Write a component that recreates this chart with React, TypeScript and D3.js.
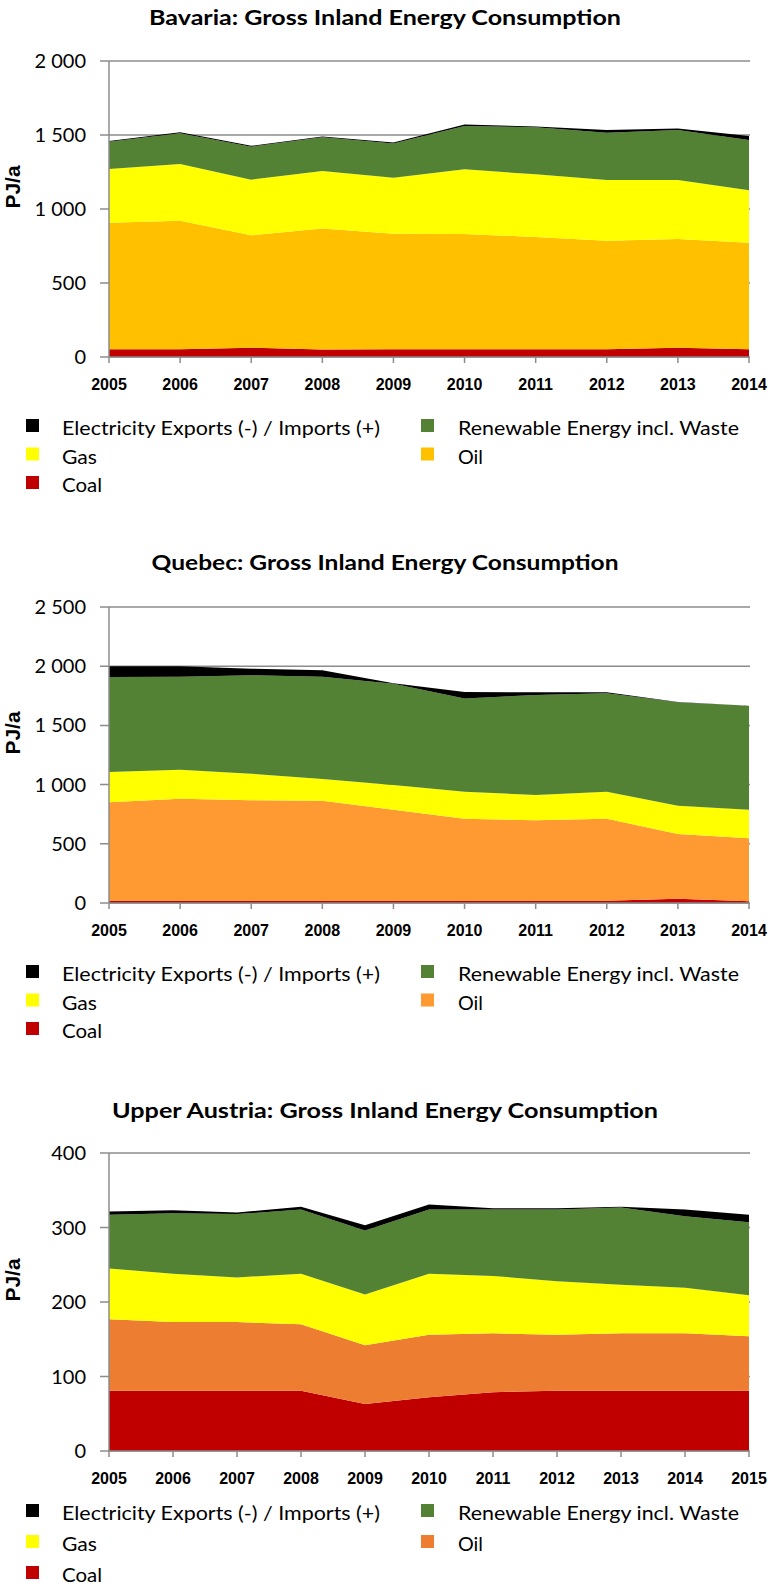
import React from "react";
import * as d3 from "d3";

// ---------- data ----------
const YEARS_BAVARIA = [2005, 2006, 2007, 2008, 2009, 2010, 2011, 2012, 2013, 2014];
const BAV_COAL = [52, 52, 63, 50, 52, 52, 52, 52, 63, 52];
const BAV_OIL = [855, 869, 759, 819, 781, 779, 759, 734, 734, 720];
const BAV_GAS = [363, 383, 376, 388, 378, 437, 423, 410, 399, 354];
const BAV_RENEW = [185, 207, 223, 227, 232, 293, 318, 320, 338, 340];
const BAV_ELEC = [5, 8, 6, 6, 6, 10, 5, 18, 10, 27];
const BAV_TICKS = [0, 500, 1000, 1500, 2000];

const YEARS_QUEBEC = [2005, 2006, 2007, 2008, 2009, 2010, 2011, 2012, 2013, 2014];
const QC_COAL = [18, 18, 18, 18, 18, 18, 18, 18, 35, 15];
const QC_OIL = [832, 863, 849, 846, 770, 694, 680, 694, 548, 531];
const QC_GAS = [256, 245, 225, 183, 209, 228, 214, 228, 239, 242];
const QC_RENEW = [803, 785, 831, 864, 855, 788, 845, 831, 873, 878];
const QC_ELEC = [90, 88, 56, 54, 3, 54, 22, 8, 2, 0];
const QC_TICKS = [0, 500, 1000, 1500, 2000, 2500];

const YEARS_UA = [2005, 2006, 2007, 2008, 2009, 2010, 2011, 2012, 2013, 2014, 2015];
const UA_COAL = [81, 81, 81, 81, 63, 72, 79, 81, 81, 81, 81];
const UA_OIL = [96, 92, 92, 89, 79, 84, 79, 75, 77, 77, 73];
const UA_GAS = [68, 65, 60, 68, 68, 82, 77, 72, 65, 61, 55];
const UA_RENEW = [72, 81, 85, 86, 86, 86, 89, 96, 104, 96, 98];
const UA_ELEC = [4.5, 4, 2, 4, 7, 7, 2, 2, 1, 9, 10];
const UA_TICKS = [0, 100, 200, 300, 400];

const SERIES_KEYS = ["coal", "oil", "gas", "renew", "elec"];
const LEGEND_LABELS: Record<string, string> = {
  elec: "Electricity Exports (-) / Imports (+)",
  renew: "Renewable Energy incl. Waste",
  gas: "Gas",
  oil: "Oil",
  coal: "Coal",
};
const LEGEND_WIDTHS: Record<string, number> = {
  elec: 318,
  renew: 281,
  gas: 35,
  oil: 25,
  coal: 40,
};

const GREEN = "#548235";
const YELLOW = "#FFFF00";
const RED = "#C00000";
const BLACK = "#000000";

const fmt = d3
  .formatLocale({ decimal: ",", thousands: " ", grouping: [3], currency: ["", ""] })
  .format(",");

type ChartDef = {
  title: string;
  titleWidth: number;
  years: number[];
  values: Record<string, number[]>;
  oilColor: string;
  ticks: number[];
  top: number;
  bottom: number;
  titleY: number;
  legendY: number;
  legendPitch: number;
};

const CHARTS: ChartDef[] = [
  {
    title: "Bavaria: Gross Inland Energy Consumption",
    titleWidth: 472,
    years: YEARS_BAVARIA,
    values: { coal: BAV_COAL, oil: BAV_OIL, gas: BAV_GAS, renew: BAV_RENEW, elec: BAV_ELEC },
    oilColor: "#FFC000",
    ticks: BAV_TICKS,
    top: 61,
    bottom: 357,
    titleY: 25,
    legendY: 435,
    legendPitch: 28.5,
  },
  {
    title: "Quebec: Gross Inland Energy Consumption",
    titleWidth: 467,
    years: YEARS_QUEBEC,
    values: { coal: QC_COAL, oil: QC_OIL, gas: QC_GAS, renew: QC_RENEW, elec: QC_ELEC },
    oilColor: "#FF9A33",
    ticks: QC_TICKS,
    top: 607,
    bottom: 903,
    titleY: 570,
    legendY: 981,
    legendPitch: 28.5,
  },
  {
    title: "Upper Austria: Gross Inland Energy Consumption",
    titleWidth: 546,
    years: YEARS_UA,
    values: { coal: UA_COAL, oil: UA_OIL, gas: UA_GAS, renew: UA_RENEW, elec: UA_ELEC },
    oilColor: "#ED7D31",
    ticks: UA_TICKS,
    top: 1153,
    bottom: 1451,
    titleY: 1118,
    legendY: 1520,
    legendPitch: 31,
  },
];

const LEFT = 109;
const RIGHT = 749;
const AXIS_COLOR = "#8C8C8C";
const FONT = "Lato, 'Open Sans', sans-serif";

function Chart({ def }: { def: ChartDef }) {
  const colors: Record<string, string> = {
    coal: RED,
    oil: def.oilColor,
    gas: YELLOW,
    renew: GREEN,
    elec: BLACK,
  };
  const x = d3.scaleLinear().domain([def.years[0], def.years[def.years.length - 1]]).range([LEFT, RIGHT]);
  const y = d3.scaleLinear().domain([0, def.ticks[def.ticks.length - 1]]).range([def.bottom, def.top]);
  const rows = def.years.map((yr, i) => {
    const r: any = { year: yr };
    SERIES_KEYS.forEach((k) => (r[k] = def.values[k][i]));
    return r;
  });
  const stacked = d3.stack<any>().keys(SERIES_KEYS)(rows);
  const area = d3
    .area<any>()
    .x((d) => x(d.data.year))
    .y0((d) => y(d[0]))
    .y1((d) => y(d[1]));
  const mid = (def.top + def.bottom) / 2;
  const legendItems = [
    ["elec", 0, 0],
    ["renew", 1, 0],
    ["gas", 0, 1],
    ["oil", 1, 1],
    ["coal", 0, 2],
  ] as [string, number, number][];
  return (
    <g>
      <text
        x={385}
        y={def.titleY}
        textAnchor="middle"
        fontFamily={FONT}
        fontWeight="bold"
        fontSize={21}
        textLength={def.titleWidth}
        lengthAdjust="spacingAndGlyphs"
      >
        {def.title}
      </text>
      {def.ticks.map((t) => (
        <g key={t}>
          <line x1={LEFT - 9} x2={RIGHT + 1} y1={y(t)} y2={y(t)} stroke={AXIS_COLOR} strokeWidth={1.5} />
          <text x={86} y={y(t) + 7} textAnchor="end" fontFamily={FONT} fontSize={20} fill="#000">
            {fmt(t)}
          </text>
        </g>
      ))}
      {stacked.map((s) => (
        <path key={s.key} d={area(s) || ""} fill={colors[s.key]} />
      ))}
      <line x1={LEFT} x2={LEFT} y1={def.top} y2={def.bottom} stroke={AXIS_COLOR} strokeWidth={1.5} />
      <line x1={LEFT} x2={RIGHT} y1={def.bottom} y2={def.bottom} stroke={AXIS_COLOR} strokeWidth={1.5} />
      {def.years.map((yr) => (
        <g key={yr}>
          <line x1={x(yr)} x2={x(yr)} y1={def.bottom} y2={def.bottom + 6} stroke={AXIS_COLOR} strokeWidth={1.5} />
          <text
            x={x(yr)}
            y={def.bottom + 33}
            textAnchor="middle"
            fontFamily="'Liberation Sans', Arial, sans-serif"
            fontWeight="bold"
            fontSize={16}
          >
            {yr}
          </text>
        </g>
      ))}
      <text
        transform={`translate(20, ${mid - 22}) rotate(-90)`}
        textAnchor="middle"
        fontFamily="'Liberation Sans', Arial, sans-serif"
        fontWeight="bold"
        fontSize={21}
      >
        PJ/a
      </text>
      {legendItems.map(([k, col, row]) => {
        const by = def.legendY + row * def.legendPitch;
        const sx = col === 0 ? 26 : 421;
        const tx = col === 0 ? 62 : 458;
        return (
          <g key={k}>
            <rect x={sx} y={by - 16} width={13} height={13} fill={colors[k]} />
            <text
              x={tx}
              y={by}
              fontFamily={FONT}
              fontSize={20}
              textLength={LEGEND_WIDTHS[k]}
              lengthAdjust="spacingAndGlyphs"
            >
              {LEGEND_LABELS[k]}
            </text>
          </g>
        );
      })}
    </g>
  );
}

export default function App() {
  return (
    <svg
      width={769}
      height={1589}
      style={{ position: "absolute", left: 0, top: 0, background: "#fff" }}
    >
      <rect width={769} height={1589} fill="#fff" />
      {CHARTS.map((c, i) => (
        <Chart key={i} def={c} />
      ))}
    </svg>
  );
}
